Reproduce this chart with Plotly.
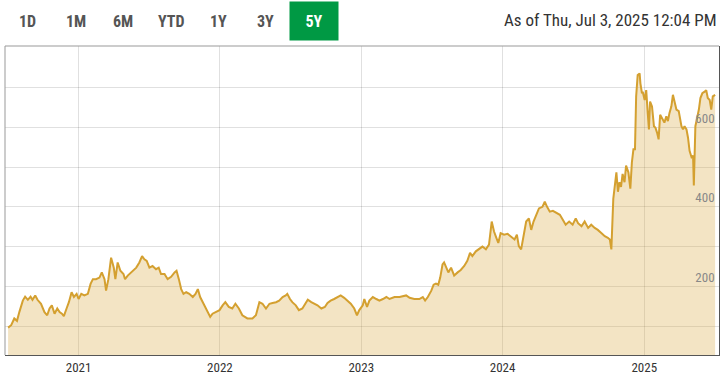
import plotly.graph_objects as go

dates = [
    "2020-07-03", "2020-07-11", "2020-07-19", "2020-07-26", "2020-08-01", "2020-08-10", "2020-08-16",
    "2020-08-23", "2020-08-30", "2020-09-04", "2020-09-11", "2020-09-17", "2020-09-26", "2020-10-05",
    "2020-10-12", "2020-10-18", "2020-10-24", "2020-10-31", "2020-11-07", "2020-11-13", "2020-11-19",
    "2020-11-24", "2020-12-01", "2020-12-07", "2020-12-14", "2020-12-20", "2020-12-27",
    "2021-01-01", "2021-01-08", "2021-01-16", "2021-01-25", "2021-02-01", "2021-02-07", "2021-02-15",
    "2021-02-24", "2021-03-02", "2021-03-09", "2021-03-13", "2021-03-19", "2021-03-26", "2021-04-02",
    "2021-04-06", "2021-04-12", "2021-04-19", "2021-04-27", "2021-05-01", "2021-05-08", "2021-05-21",
    "2021-05-30", "2021-06-07", "2021-06-14", "2021-06-20", "2021-06-26", "2021-07-03", "2021-07-11",
    "2021-07-20", "2021-07-27", "2021-08-02", "2021-08-11", "2021-08-19", "2021-08-28", "2021-09-06",
    "2021-09-11", "2021-09-17", "2021-09-23", "2021-09-29", "2021-10-06", "2021-10-14", "2021-10-23",
    "2021-10-30", "2021-11-05", "2021-11-11", "2021-11-18", "2021-11-25", "2021-12-01", "2021-12-07",
    "2021-12-13", "2021-12-22", "2021-12-31",
    "2022-01-08", "2022-01-15", "2022-01-24", "2022-02-02", "2022-02-10", "2022-02-19", "2022-02-28",
    "2022-03-13", "2022-03-26", "2022-04-04", "2022-04-13", "2022-04-21", "2022-04-30", "2022-05-09",
    "2022-05-17", "2022-05-26", "2022-06-03", "2022-06-12", "2022-06-20", "2022-06-24", "2022-07-01",
    "2022-07-07", "2022-07-16", "2022-07-24", "2022-08-02", "2022-08-11", "2022-08-16", "2022-08-25",
    "2022-09-01", "2022-09-10", "2022-09-20", "2022-09-29", "2022-10-06", "2022-10-14", "2022-10-23",
    "2022-11-01", "2022-11-09", "2022-11-18", "2022-11-26", "2022-12-05", "2022-12-14", "2022-12-21",
    "2022-12-27",
    "2023-01-05", "2023-01-09", "2023-01-16", "2023-01-22", "2023-01-31", "2023-02-09", "2023-02-17",
    "2023-02-26", "2023-03-07", "2023-03-15", "2023-03-28", "2023-04-10", "2023-04-23", "2023-04-27",
    "2023-05-06", "2023-05-18", "2023-05-31", "2023-06-09", "2023-06-15", "2023-06-22", "2023-07-01",
    "2023-07-07", "2023-07-13", "2023-07-19", "2023-07-24", "2023-07-30", "2023-08-03", "2023-08-08",
    "2023-08-14", "2023-08-21", "2023-08-29", "2023-09-07", "2023-09-15", "2023-09-24", "2023-10-02",
    "2023-10-09", "2023-10-15", "2023-10-24", "2023-11-01", "2023-11-10", "2023-11-19", "2023-11-27",
    "2023-12-04", "2023-12-10", "2023-12-16", "2023-12-21", "2023-12-27",
    "2024-01-05", "2024-01-14", "2024-01-23", "2024-02-01", "2024-02-07", "2024-02-12", "2024-02-18",
    "2024-02-24", "2024-03-02", "2024-03-09", "2024-03-15", "2024-03-21", "2024-03-28", "2024-04-04",
    "2024-04-13", "2024-04-19", "2024-04-25", "2024-05-02", "2024-05-10", "2024-05-19", "2024-05-28",
    "2024-06-05", "2024-06-12", "2024-06-21", "2024-06-30", "2024-07-08", "2024-07-14", "2024-07-23",
    "2024-07-31", "2024-08-09", "2024-08-17", "2024-08-26", "2024-09-03", "2024-09-12", "2024-09-21",
    "2024-09-29", "2024-10-04", "2024-10-08", "2024-10-13", "2024-10-21", "2024-10-25", "2024-10-29",
    "2024-11-02", "2024-11-06", "2024-11-11", "2024-11-15", "2024-11-21", "2024-11-26", "2024-11-30",
    "2024-12-04", "2024-12-08", "2024-12-11", "2024-12-15", "2024-12-20", "2024-12-22", "2024-12-26",
    "2024-12-28",
    "2025-01-02", "2025-01-06", "2025-01-10", "2025-01-13", "2025-01-16", "2025-01-21", "2025-01-26",
    "2025-01-30", "2025-02-03", "2025-02-07", "2025-02-11", "2025-02-16", "2025-02-22", "2025-02-27",
    "2025-03-03", "2025-03-07", "2025-03-12", "2025-03-16", "2025-03-20", "2025-03-25", "2025-03-31",
    "2025-04-07", "2025-04-11", "2025-04-15", "2025-04-20", "2025-04-24", "2025-04-28", "2025-05-03",
    "2025-05-07", "2025-05-09", "2025-05-13", "2025-05-17", "2025-05-22", "2025-05-26", "2025-05-31",
    "2025-06-06", "2025-06-10", "2025-06-14", "2025-06-19", "2025-06-23", "2025-06-27", "2025-07-03",
]

prices = [
    96, 102, 119, 113, 135, 164, 174,
    166, 174, 166, 177, 166, 156, 135,
    127, 144, 152, 131, 144, 135, 131,
    125, 144, 160, 185, 173, 181,
    168, 181, 177, 181, 206, 218, 218,
    222, 235, 218, 189, 218, 272, 247,
    218, 260, 239, 231, 218, 227, 239,
    247, 260, 276, 268, 264, 247, 251,
    243, 247, 231, 231, 218, 224, 235,
    239, 218, 193, 181, 185, 181, 173,
    181, 193, 173, 160, 148, 135, 123,
    131, 135, 140,
    152, 160, 148, 144, 156, 144, 127,
    119, 119, 127, 160, 156, 144, 156,
    158, 160, 164, 173, 177, 181, 168,
    160, 152, 140, 144, 160, 166, 160,
    156, 152, 144, 148, 158, 164, 168,
    173, 177, 171, 164, 156, 144, 127,
    140,
    152, 168, 148, 164, 173, 168, 164,
    168, 173, 168, 173, 173, 175, 177,
    171, 168, 168, 173, 164, 173, 189,
    204, 207, 204, 222, 255, 260, 247,
    235, 247, 227, 235, 241, 251, 264,
    284, 276, 288, 293, 300, 293, 305,
    363, 338, 322, 309, 334,
    330, 332, 326, 318, 330, 301, 293,
    322, 363, 371, 342, 363, 380, 396,
    400, 413, 400, 388, 390, 384, 380,
    367, 355, 363, 355, 371, 359, 351,
    363, 347, 355, 347, 342, 334, 326,
    322, 318, 293, 420, 487, 438, 462,
    450, 483, 462, 504, 487, 446, 512,
    545, 545, 678, 732, 736, 711, 686,
    690,
    669, 694, 636, 595, 665, 653, 603,
    599, 587, 570, 632, 624, 612, 628,
    616, 636, 653, 682, 661, 645, 641,
    603, 595, 603, 595, 574, 541, 525,
    529, 454, 603, 620, 645, 674, 686,
    690, 694, 674, 669, 645, 678, 682,
]

y_ticks = [100, 200, 300, 400, 500, 600, 700]
y_labels = ["", "200", "", "400", "", "600", ""]
x_ticks = ["2021-01-01", "2022-01-01", "2023-01-01", "2024-01-01", "2025-01-01"]
x_labels = ["2021", "2022", "2023", "2024", "2025"]
range_buttons = ["1D", "1M", "6M", "YTD", "1Y", "3Y", "5Y"]
active_button = "5Y"
as_of_text = "As of Thu, Jul 3, 2025 12:04 PM"

FONT = "Liberation Sans Narrow, Roboto Condensed, Roboto, sans-serif"

fig = go.Figure()
fig.add_trace(go.Scatter(
    x=dates, y=prices, mode="lines",
    line=dict(color="rgb(212,160,48)", width=2),
    fill="tozeroy", fillcolor="rgba(218,170,70,0.32)",
    hoverinfo="skip",
))

fig.update_layout(
    width=725, height=380,
    margin=dict(l=5, r=6, t=46, b=22),
    paper_bgcolor="white", plot_bgcolor="white",
    showlegend=False,
    font=dict(family=FONT, size=13, color="#333"),
    xaxis=dict(
        range=["2020-06-25", "2025-07-13"],
        tickvals=x_ticks, ticktext=x_labels,
        showgrid=True, gridcolor="rgba(0,0,0,0.12)", gridwidth=1,
        showline=True, linecolor="#555", linewidth=1,
        ticks="", tickfont=dict(size=13, color="#333"),
        zeroline=False, fixedrange=True,
    ),
    yaxis=dict(
        range=[27, 805],
        tickvals=y_ticks, ticktext=y_labels,
        side="right", ticklabelposition="inside",
        ticklabelshift=-9, ticklabelstandoff=4,
        showgrid=True, gridcolor="rgba(0,0,0,0.12)", gridwidth=1,
        showline=True, linecolor="#555", linewidth=1,
        ticks="", tickfont=dict(size=13, color="#888"),
        zeroline=False, fixedrange=True,
    ),
)

# top and left frame lines
fig.add_shape(type="line", xref="paper", yref="paper", x0=0, x1=1, y0=1, y1=1,
              line=dict(color="#999", width=1))
fig.add_shape(type="line", xref="paper", yref="paper", x0=0, x1=0, y0=0, y1=1,
              line=dict(color="#999", width=1))

# range buttons
btn_px = [28, 76, 123, 171, 218, 265, 314]
for label, px in zip(range_buttons, btn_px):
    active = label == active_button
    fig.add_annotation(
        x=(px - 5) / 714, y=1 + (46 - 21) / 312, xref="paper", yref="paper",
        text=f"<b>{label}</b>", showarrow=False,
        font=dict(family=FONT, size=16, color="white" if active else "#555"),
        bgcolor="rgb(0,153,68)" if active else None,
        width=46 if active else None, height=36 if active else None,
        xanchor="center", yanchor="middle",
    )

fig.add_annotation(
    x=1, y=1 + (46 - 20) / 312, xref="paper", yref="paper",
    text=as_of_text, showarrow=False, xanchor="right", yanchor="middle",
    font=dict(family=FONT, size=17, color="#333"),
)

fig.write_html(
    "out.html",
    config={"displayModeBar": False},
    post_script="document.body.style.margin='0';document.body.style.padding='0';"
                "document.body.style.overflow='hidden';",
)
